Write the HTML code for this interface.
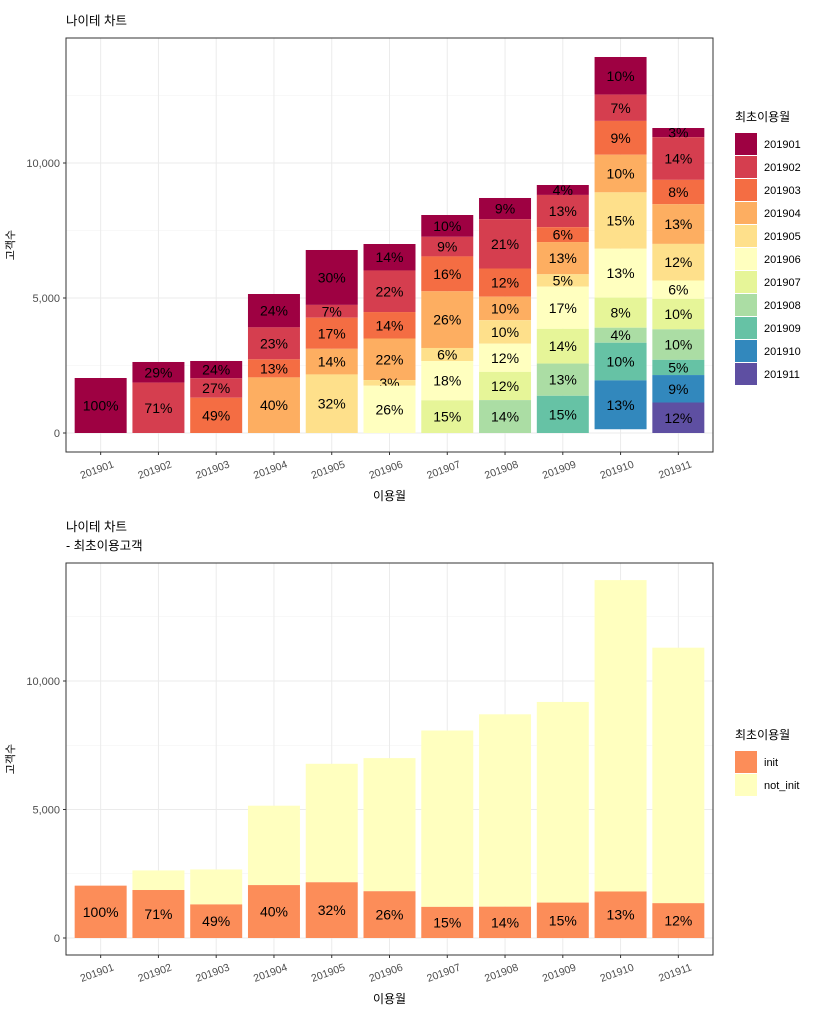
<!DOCTYPE html>
<html><head><meta charset="utf-8">
<style>
body{margin:0;background:#fff;}
svg text{font-family:"Liberation Sans","Noto Sans CJK KR",sans-serif;}
</style></head>
<body>
<svg id="root" width="819" height="1012" xmlns="http://www.w3.org/2000/svg"></svg>
<script>
const categories=["201901","201902","201903","201904","201905","201906","201907","201908","201909","201910","201911"];
const totals=[2037,2630,2667,5148,6778,7000,8074,8704,9185,13926,11296];
const pct0=[100],pct1=[29,71],pct2=[24,27,49],pct3=[24,23,13,40],pct4=[30,7,17,14,32],
pct5=[14,22,14,22,3,26],pct6=[10,9,16,26,6,18,15],pct7=[9,21,12,10,10,12,12,14],
pct8=[4,13,6,13,5,17,14,13,15],pct9=[10,7,9,10,15,13,8,4,10,13],pct10=[3,14,8,13,12,6,10,10,5,9,12];
const pcts=[pct0,pct1,pct2,pct3,pct4,pct5,pct6,pct7,pct8,pct9,pct10];
const yTicks=[0,5000,10000];
const yTickLabels=["0","5,000","10,000"];
const colors=["#9E0142","#D53E4F","#F46D43","#FDAE61","#FEE08B","#FFFFBF","#E6F598","#ABDDA4","#66C2A5","#3288BD","#5E4FA2"];
const NS="http://www.w3.org/2000/svg";
const root=document.getElementById('root');
function el(t,a,p){const e=document.createElementNS(NS,t);for(const k in a)e.setAttribute(k,a[k]);(p||root).appendChild(e);return e;}
function txt(s,a,p){const e=el('text',a,p);e.textContent=s;return e;}

function drawChart(cfg){
  const g=el('g',{});
  
  
  const {L,R,T,B,y0,y10k}=cfg;
  const ys=v=>y0-(y0-y10k)*v/10000;
  const step=(R-L)/11.2, xs=i=>L+step*(0.6+i), bw=step*0.9;
  [2500,7500,12500].forEach(v=>{if(ys(v)>T)el('line',{x1:L,x2:R,y1:ys(v),y2:ys(v),stroke:'#f2f2f2','stroke-width':0.6},g);});
  yTicks.forEach(v=>el('line',{x1:L,x2:R,y1:ys(v),y2:ys(v),stroke:'#ebebeb','stroke-width':1},g));
  categories.forEach((c,i)=>el('line',{x1:xs(i),x2:xs(i),y1:T,y2:B,stroke:'#ebebeb','stroke-width':1},g));
  cfg.bars(g,xs,ys,bw);
  const bd=el('rect',{x:L,y:T,width:R-L,height:B-T,fill:'none',stroke:'#333','stroke-width':1},g);
  
  
  yTicks.forEach((v,i)=>{
    el('line',{x1:L-3,x2:L,y1:ys(v),y2:ys(v),stroke:'#333'},g);
    const t=txt(yTickLabels[i],{x:L-6,y:ys(v)+4,'text-anchor':'end','font-size':11,fill:'#4d4d4d'},g);
    
    
  });
  categories.forEach((c,i)=>{
    el('line',{x1:xs(i),x2:xs(i),y1:B,y2:B+3,stroke:'#333'},g);
    const t=txt(c,{x:xs(i)+14,y:B+15,'text-anchor':'end','font-size':10.5,fill:'#4d4d4d',transform:`rotate(-20 ${xs(i)+14} ${B+15})`},g);
    
    
  });
  const xt=txt('이용월',{x:(L+R)/2,y:B+48,'text-anchor':'middle','font-size':12,fill:'#000'},g);
  
  
  const yt=txt('고객수',{x:0,y:0,'text-anchor':'middle','font-size':11,fill:'#000',transform:`translate(14 ${(T+B)/2}) rotate(-90)`},g);
  
  
  cfg.titles.forEach((s,i)=>{
    const t=txt(s,{x:L,y:T-13-(cfg.titles.length-1-i)*19,'font-size':12.5,fill:'#000'},g);
    
    
  });
  const lg=el('g',{},g);
  
  
  txt('최초이용월',{x:735,y:cfg.legY,'font-size':12,fill:'#000'},lg);
  cfg.legItems.forEach((it,i)=>{
    const y=cfg.legY+12+i*23;
    const r=el('rect',{x:735,y:y,width:22,height:22,fill:it[1]},lg);
    
    
    const t=txt(it[0],{x:764,y:y+15,'font-size':11,fill:'#000'},lg);
    
    
  });
}

drawChart({name:'stacked-chart',L:66,R:713,T:38,B:452,y0:433,y10k:163,
  titles:['나이테 차트'],legY:121,
  legItems:categories.map((c,i)=>[c,colors[i]]),
  bars:(g,xs,ys,bw)=>{
    categories.forEach((c,i)=>{
      const p=pcts[i];let cum=totals[i];
      p.forEach((pv,j)=>{
        const v=totals[i]*pv/100;
        const top=Math.max(cum,0), bot=Math.max(cum-v,0);
        const r=el('rect',{x:xs(i)-bw/2,y:ys(top),width:bw,height:Math.max(ys(bot)-ys(top),0),fill:colors[j]},g);
        
        
        const t=txt(pv+'%',{x:xs(i),y:(ys(top)+ys(bot))/2+5,'text-anchor':'middle','font-size':14,fill:'#000'},g);
        
        
        cum-=v;
      });
    });
  }});

drawChart({name:'init-chart',L:66,R:713,T:563,B:955,y0:938,y10k:681,
  titles:['나이테 차트','- 최초이용고객'],legY:739,
  legItems:[['init','#FC8D59'],['not_init','#FFFFBF']],
  bars:(g,xs,ys,bw)=>{
    categories.forEach((c,i)=>{
      const p=pcts[i];const pv=p[p.length-1];
      const init=totals[i]*pv/100;
      const r1=el('rect',{x:xs(i)-bw/2,y:ys(totals[i]),width:bw,height:ys(init)-ys(totals[i]),fill:'#FFFFBF'},g);
      
      
      const r2=el('rect',{x:xs(i)-bw/2,y:ys(init),width:bw,height:ys(0)-ys(init),fill:'#FC8D59'},g);
      
      
      const t=txt(pv+'%',{x:xs(i),y:(ys(init)+ys(0))/2+5,'text-anchor':'middle','font-size':14,fill:'#000'},g);
      
      
    });
  }});
</script>
</body></html>
